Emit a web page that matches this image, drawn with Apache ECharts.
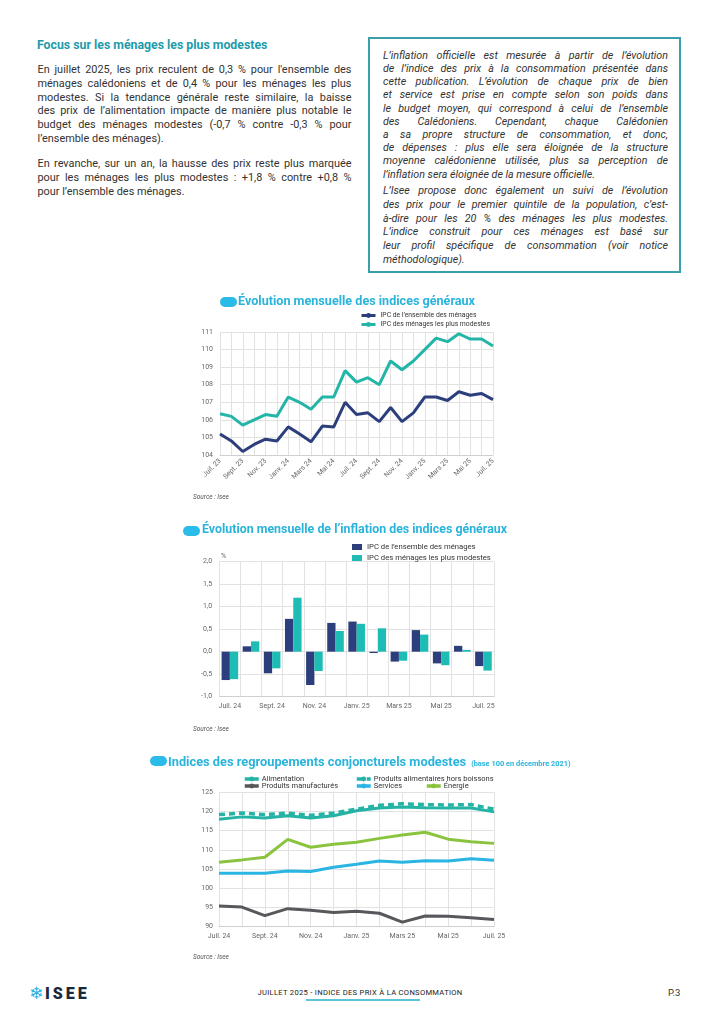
<!DOCTYPE html>
<html><head><meta charset="utf-8">
<script src="https://cdn.jsdelivr.net/npm/echarts@6/dist/echarts.min.js"></script>
<style>
html,body{margin:0;padding:0;background:#fff;}
body{width:720px;height:1018px;position:relative;overflow:hidden;font-family:Roboto,"Noto Sans",sans-serif;color:#333;}
.abs{position:absolute;}
.ln{position:absolute;white-space:nowrap;text-align:justify;text-align-last:justify;font-size:10.9px;line-height:12px;}
.ln.last{text-align-last:left;}
.it{font-style:italic;font-size:10.7px;}
#box{position:absolute;left:368px;top:37px;width:313px;height:236px;border:2px solid #3a9eab;box-sizing:border-box;}
.chart{position:absolute;}
</style></head>
<body>
<div class="abs" style="left:37px;top:38px;font-size:12.3px;font-weight:bold;color:#1e9bab;white-space:nowrap;">Focus sur les ménages les plus modestes</div>
<div id="left"></div>
<div id="box"></div>
<div id="right"></div>
<div id="c1" class="chart" style="left:180px;top:290px;width:340px;height:220px;"></div>
<div id="c2" class="chart" style="left:180px;top:520px;width:340px;height:220px;"></div>
<div id="c3" class="chart" style="left:140px;top:750px;width:440px;height:220px;"></div>
<div class="abs" style="left:29px;top:983px;font-size:17px;color:#2bb3e3;font-family:'DejaVu Sans';">❄</div>
<div class="abs" style="left:45px;top:984px;font-size:16px;font-weight:900;color:#1b2838;letter-spacing:3px;font-family:Roboto;">ISEE</div>
<div class="abs" style="left:200px;top:988px;width:320px;text-align:center;font-size:7.6px;color:#222;letter-spacing:0.3px;">JUILLET 2025 - INDICE DES PRIX À LA CONSOMMATION</div>
<div class="abs" style="left:306px;top:999px;width:114px;height:2px;background:#5bc6d8;"></div>
<div class="abs" style="left:668px;top:987px;font-size:9.5px;color:#333;">P.3</div>
<script>
// ---- text blocks ----
const leftLines = [
 "En juillet 2025, les prix reculent de 0,3 % pour l'ensemble des",
 "ménages calédoniens et de 0,4 % pour les ménages les plus",
 "modestes. Si la tendance générale reste similaire, la baisse",
 "des prix de l’alimentation impacte de manière plus notable le",
 "budget des ménages modestes (-0,7 % contre -0,3 % pour",
 "l’ensemble des ménages).",
 "En revanche, sur un an, la hausse des prix reste plus marquée",
 "pour les ménages les plus modestes : +1,8 % contre +0,8 %",
 "pour l’ensemble des ménages."
];
const leftY = [70,84,97.5,111,125,138.5,164,178,191.5];
const leftLast = [5,8];
const rightLines = [
 "L’inflation officielle est mesurée à partir de l’évolution",
 "de l’indice des prix à la consommation présentée dans",
 "cette publication. L’évolution de chaque prix de bien",
 "et service est prise en compte selon son poids dans",
 "le budget moyen, qui correspond à celui de l’ensemble",
 "des Calédoniens. Cependant, chaque Calédonien",
 "a sa propre structure de consommation, et donc,",
 "de dépenses : plus elle sera éloignée de la structure",
 "moyenne calédonienne utilisée, plus sa perception de",
 "l’inflation sera éloignée de la mesure officielle.",
 "L’Isee propose donc également un suivi de l’évolution",
 "des prix pour le premier quintile de la population, c’est-",
 "à-dire pour les 20 % des ménages les plus modestes.",
 "L’indice construit pour ces ménages est basé sur",
 "leur profil spécifique de consommation (voir notice",
 "méthodologique)."
];
const rightY = [55.7,68.9,82.1,95.3,108.5,121.7,134.9,148.1,161.3,174.5,191,204.8,218.6,232.4,246.2,260];
const rightLast = [9,15];
function put(container, lines, ys, lasts, left, width, cls){
  const c = document.getElementById(container);
  lines.forEach((t,i)=>{
    const d = document.createElement('div');
    d.className = 'ln ' + cls + (lasts.includes(i)?' last':'');
    d.style.left = left+'px'; d.style.width = width+'px'; d.style.top = (ys[i]-6)+'px';
    d.textContent = t; c.appendChild(d);
  });
}
put('left', leftLines, leftY, leftLast, 37.5, 314, '');
put('right', rightLines, rightY, rightLast, 383, 285, 'it');

// ---- chart data ----
const months1 = ["Juil. 23","Août 23","Sept. 23","Oct. 23","Nov. 23","Déc. 23","Janv. 24","Févr. 24","Mars 24","Avr. 24","Mai 24","Juin 24","Juil. 24","Août 24","Sept. 24","Oct. 24","Nov. 24","Déc. 24","Janv. 25","Févr. 25","Mars 25","Avr. 25","Mai 25","Juin 25","Juil. 25"];
const ipcEnsemble = [105.2,104.8,104.2,104.6,104.9,104.8,105.6,105.2,104.75,105.65,105.6,107.0,106.3,106.4,105.9,106.7,105.9,106.4,107.3,107.3,107.1,107.6,107.4,107.5,107.15];
const ipcModestes = [106.35,106.2,105.7,106.0,106.3,106.2,107.3,107.0,106.6,107.3,107.3,108.8,108.15,108.4,108.0,109.35,108.85,109.35,110.0,110.65,110.45,110.9,110.6,110.6,110.2];

const months2 = ["Juil. 24","Août 24","Sept. 24","Oct. 24","Nov. 24","Déc. 24","Janv. 25","Févr. 25","Mars 25","Avr. 25","Mai 25","Juin 25","Juil. 25"];
const inflEnsemble = [-0.63,0.12,-0.48,0.73,-0.74,0.64,0.67,-0.03,-0.22,0.48,-0.26,0.13,-0.32];
const inflModestes = [-0.61,0.23,-0.37,1.2,-0.43,0.46,0.62,0.52,-0.2,0.38,-0.3,0.04,-0.42];

const months3 = months2;
const alimentation = [118.0,118.6,118.3,118.9,118.3,118.9,120.2,120.9,121.2,121.0,120.9,120.9,119.9];
const alimHorsBoissons = [119.2,119.6,119.2,119.6,119.0,119.6,120.6,121.6,122.0,121.8,121.7,121.8,120.6];
const manufactures = [95.4,95.1,92.9,94.7,94.3,93.7,94.0,93.5,91.2,92.8,92.7,92.3,91.9];
const services = [103.9,103.9,103.9,104.5,104.4,105.5,106.25,107.1,106.8,107.2,107.1,107.7,107.3];
const energie = [106.8,107.4,108.1,112.75,110.7,111.5,112.0,113.0,113.9,114.6,112.8,112.1,111.7];

const navy = '#2c3f7c', teal = '#22b5a8', tealBar = '#1dbdb6', titleCol = '#2ab4dc', pill = '#2bbbe8';
const grid = '#e2e2e2', lab = '#666';
const F = 'Roboto, sans-serif';

function pillG(x,y,w){ return {type:'rect', left:x, top:y, shape:{width:w,height:10,r:5}, style:{fill:pill}}; }
function srcG(x,y){ return {type:'text', left:x, top:y, style:{text:'Source : Isee', font:'italic 6.5px '+F, fill:'#555'}}; }

// ---- chart 1 ----
const c1 = echarts.init(document.getElementById('c1'), null, {renderer:'canvas'});
c1.setOption({
  animation:false,
  title:{text:'Évolution mensuelle des indices généraux', left:58, top:5, padding:0,
    textStyle:{fontFamily:F, fontSize:12.6, fontWeight:'bold', color:titleCol}},
  graphic:[pillG(40,7,17), srcG(13,204)],
  legend:{orient:'vertical', left:180, top:22, padding:0, itemGap:2, itemWidth:14, itemHeight:6,
    textStyle:{fontFamily:F, fontSize:6.8, color:'#333'}, lineStyle:{width:3},
    data:['IPC de l’ensemble des ménages','IPC des ménages les plus modestes']},
  grid:{left:40, top:42, width:273, height:123},
  xAxis:{type:'category', data:months1, boundaryGap:false,
    axisLine:{lineStyle:{color:'#d0d0d0'}}, axisTick:{show:false},
    axisLabel:{interval:1, rotate:45, fontFamily:F, fontSize:7, color:lab, margin:5},
    splitLine:{show:true, interval:0, lineStyle:{color:grid}}},
  yAxis:{type:'value', min:104, max:111, interval:1,
    axisLine:{show:false}, axisTick:{show:false},
    axisLabel:{fontFamily:F, fontSize:7, color:lab, margin:7},
    splitLine:{lineStyle:{color:grid}}},
  series:[
    {name:'IPC de l’ensemble des ménages', type:'line', data:ipcEnsemble, symbol:'none', lineStyle:{width:3, color:navy}, itemStyle:{color:navy}},
    {name:'IPC des ménages les plus modestes', type:'line', data:ipcModestes, symbol:'none', lineStyle:{width:3, color:teal}, itemStyle:{color:teal}}
  ]
});

// ---- chart 2 ----
const c2 = echarts.init(document.getElementById('c2'), null, {renderer:'canvas'});
c2.setOption({
  animation:false,
  title:{text:'Évolution mensuelle de l’inflation des indices généraux', left:22, top:4, padding:0,
    textStyle:{fontFamily:F, fontSize:12.4, fontWeight:'bold', color:titleCol}},
  graphic:[pillG(3,6,17), srcG(13,206), {type:'text', left:41, top:33, style:{text:'%', font:'7px '+F, fill:lab}}],
  legend:{orient:'vertical', left:172, top:23, padding:0, itemGap:3, itemWidth:10, itemHeight:6,
    textStyle:{fontFamily:F, fontSize:7.7, color:'#333'},
    data:[{name:'IPC de l’ensemble des ménages', icon:'rect'},{name:'IPC des ménages les plus modestes', icon:'rect'}]},
  grid:{left:39.3, top:41.7, width:274.7, height:135},
  xAxis:{type:'category', data:months2, boundaryGap:true,
    axisLine:{show:true, onZero:false, lineStyle:{color:'#d0d0d0'}}, axisTick:{show:false},
    axisLabel:{interval:1, fontFamily:F, fontSize:7, color:lab, margin:6},
    splitLine:{show:true, interval:0, lineStyle:{color:grid}}},
  yAxis:{type:'value', min:-1, max:2, interval:0.5,
    axisLine:{show:false}, axisTick:{show:false},
    axisLabel:{fontFamily:F, fontSize:7, color:lab, margin:7, formatter:v=>v.toFixed(1).replace('.',',')},
    splitLine:{lineStyle:{color:grid}}},
  series:[
    {name:'IPC de l’ensemble des ménages', type:'bar', data:inflEnsemble, barWidth:8.3, barGap:'0%', itemStyle:{color:navy}},
    {name:'IPC des ménages les plus modestes', type:'bar', data:inflModestes, barWidth:8.3, barGap:'0%', itemStyle:{color:tealBar}}
  ]
});

// ---- chart 3 ----
const cAlim = '#25b3a6', cMan = '#58585c', cServ = '#2ab5e3', cEn = '#8ac43f';
const c3 = echarts.init(document.getElementById('c3'), null, {renderer:'canvas'});
const lg = (name,left,top)=>({orient:'horizontal', left:left, top:top, padding:0, itemWidth:14, itemHeight:6, itemGap:0,
  textStyle:{fontFamily:F, fontSize:7.5, color:'#333', padding:[0,0,0,-2]}, lineStyle:{width:3.5}, data:[name]});
c3.setOption({
  animation:false,
  title:{text:'{a|Indices des regroupements conjoncturels modestes} {b|(base 100 en décembre 2021)}', left:28, top:4, padding:0,
    textStyle:{rich:{a:{fontFamily:F, fontSize:12.8, fontWeight:'bold', color:titleCol}, b:{fontFamily:F, fontSize:7.4, fontWeight:'bold', color:titleCol, padding:[2,0,0,0]}}}},
  graphic:[pillG(10,6,17), srcG(53,204)],
  legend:[lg('Alimentation',103,25), lg('Produits alimentaires hors boissons',215,25), lg('Produits manufacturés',103,32), lg('Services',215,32), lg('Énergie',285,32)],
  grid:{left:79, top:42.3, width:275, height:134.4},
  xAxis:{type:'category', data:months3, boundaryGap:false,
    axisLine:{lineStyle:{color:'#d0d0d0'}}, axisTick:{show:false},
    axisLabel:{interval:1, fontFamily:F, fontSize:7, color:lab, margin:6},
    splitLine:{show:true, interval:0, lineStyle:{color:grid}}},
  yAxis:{type:'value', min:90, max:125, interval:5,
    axisLine:{show:false}, axisTick:{show:false},
    axisLabel:{fontFamily:F, fontSize:7, color:lab, margin:6},
    splitLine:{lineStyle:{color:grid}}},
  series:[
    {name:'Alimentation', type:'line', data:alimentation, symbol:'none', lineStyle:{width:3, color:cAlim}, itemStyle:{color:cAlim}},
    {name:'Produits alimentaires hors boissons', type:'line', data:alimHorsBoissons, symbol:'none', lineStyle:{width:3.5, color:cAlim, type:[6,4]}, itemStyle:{color:cAlim}},
    {name:'Produits manufacturés', type:'line', data:manufactures, symbol:'none', lineStyle:{width:3, color:cMan}, itemStyle:{color:cMan}},
    {name:'Services', type:'line', data:services, symbol:'none', lineStyle:{width:3, color:cServ}, itemStyle:{color:cServ}},
    {name:'Énergie', type:'line', data:energie, symbol:'none', lineStyle:{width:3, color:cEn}, itemStyle:{color:cEn}}
  ]
});
</script>
</body></html>
